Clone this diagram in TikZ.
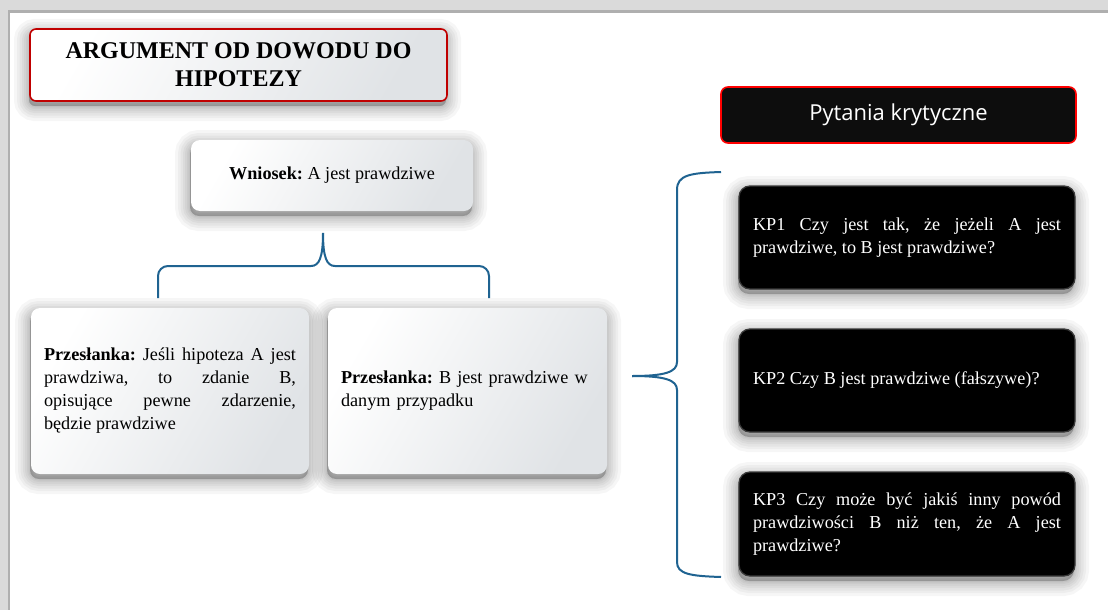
\documentclass[tikz,border=0pt]{standalone}
\usepackage{fontspec}
\setmainfont{Liberation Serif}
\newfontfamily\pytfont{Open Sans}
\definecolor{bracec}{HTML}{1F6391}
\definecolor{redline}{HTML}{C00000}
\definecolor{boxgrey}{HTML}{E0E3E6}
\definecolor{frameg}{HTML}{DADADA}
\definecolor{frameg2}{HTML}{AFAFAF}
\frenchspacing
\hyphenpenalty=10000
\exhyphenpenalty=10000
\newcommand\mybodyfont{\fontsize{18.2}{23}\selectfont}
\tikzset{
  shadowlayer/.style={preaction={fill=black, draw=black, fill opacity=0.035, draw opacity=0.035, line width=#1, transform canvas={xshift=-1pt,yshift=-5pt}}},
  softshadow/.style={shadowlayer=30pt, shadowlayer=24pt, shadowlayer=19pt, shadowlayer=14pt, shadowlayer=10pt, shadowlayer=6pt, shadowlayer=3pt},
  lightbox/.style={rounded corners=9pt, left color=white, right color=boxgrey, shading angle=60, softshadow, inner ysep=4pt},
  darkbox/.style={rounded corners=11pt, fill=black, draw=gray!45!black, line width=1.3pt, softshadow, text=white, inner xsep=14pt, text width=308pt, align=justify, minimum width=336pt},
  brace/.style={draw=bracec, line width=2pt},
  bodytext/.style={font=\mybodyfont},
}
\begin{document}
\begin{tikzpicture}[x=1pt,y=1pt]
\useasboundingbox (0,0) rectangle (1108,-610);
% frame
\fill[frameg] (0,0) rectangle (1108,-610);
\fill[frameg2] (8,-10) rectangle (1108,-610);
\fill[white] (10,-13) rectangle (1108,-610);
% title
\node[lightbox, draw=redline, line width=1.6pt, rounded corners=6pt, minimum width=417pt, minimum height=72pt, align=center, font=\fontsize{24}{28}\selectfont\bfseries] (title) at (238.5,-65) {ARGUMENT OD DOWODU DO\\HIPOTEZY};
% conclusion
\node[lightbox, minimum width=282pt, minimum height=71pt, bodytext] (wn) at (332,-175.5) {\textbf{Wniosek:} A jest prawdziwe};
% premises
\node[lightbox, inner xsep=13pt, text width=252pt, minimum height=166pt, align=justify, bodytext] (p1) at (170,-391) {\textbf{Przesłanka:} Jeśli hipoteza A jest\linebreak prawdziwa, to zdanie B,\linebreak opisujące pewne zdarzenie,\linebreak będzie prawdziwe};
\node[lightbox, inner xsep=13pt, text width=253pt, minimum height=166pt, align=left, bodytext] (p2) at (467.5,-391) {\textbf{Przesłanka:} B jest prawdziwe w\\danym przypadku};
% critical questions header
\node[rounded corners=7pt, fill=black!95, draw=red, line width=1.6pt, minimum width=355pt, minimum height=56pt, text=white, font=\pytfont\fontsize{22}{26}\selectfont] (pyt) at (898.5,-115) {Pytania krytyczne};
% questions
\node[darkbox, minimum height=103pt, bodytext] (kp1) at (907,-237.5) {KP1 Czy jest tak, że jeżeli A jest\linebreak prawdziwe, to B jest prawdziwe?};
\node[darkbox, minimum height=103pt, bodytext] (kp2) at (907,-380.5) {KP2 Czy B jest prawdziwe (fałszywe)?};
\node[darkbox, minimum height=104pt, bodytext] (kp3) at (907,-524) {KP3 Czy może być jakiś inny powód\linebreak prawdziwości B niż ten, że A jest\linebreak prawdziwe?};
% upper brace (wniosek -> premises)
\coordinate (bt) at (323,-233);
\coordinate (bl) at (158,-298);
\coordinate (br) at (489,-298);
\draw[brace] (bl) -- (158,-276) arc[start angle=180,end angle=90,radius=10] -- (311,-266) .. controls (319,-266) and (323,-258) .. (bt);
\draw[brace] (br) -- (489,-276) arc[start angle=0,end angle=90,radius=10] -- (335,-266) .. controls (327,-266) and (323,-258) .. (bt);
% right brace (premises -> questions)
\coordinate (rt) at (632,-376);
\coordinate (rtop) at (721,-172);
\coordinate (rbot) at (721,-577);
\draw[brace] (rtop) .. controls (690,-173) and (677,-175) .. (677,-190) -- (677,-362) .. controls (677,-372) and (665,-376) .. (rt);
\draw[brace] (rbot) .. controls (690,-576) and (677,-574) .. (677,-562) -- (677,-390) .. controls (677,-380) and (665,-376) .. (rt);
\end{tikzpicture}
\end{document}
